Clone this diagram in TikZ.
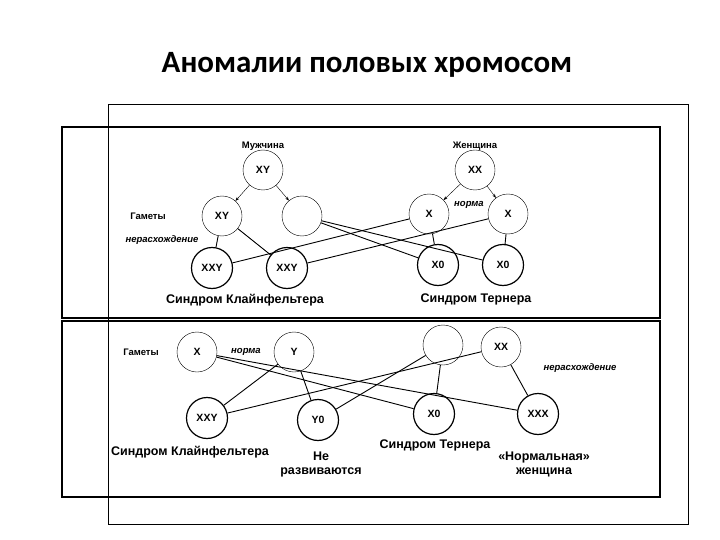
\documentclass[tikz,border=0pt]{standalone}
\usepackage{fontspec}
\setmainfont{Liberation Sans}
\newfontfamily\titlefont{Carlito}
\usetikzlibrary{arrows.meta}
\begin{document}
\begin{tikzpicture}[x=1pt,y=-1pt,
  cir/.style={draw,circle,minimum size=40pt,inner sep=0pt,font=\bfseries\fontsize{10.5}{12}\selectfont},
  res/.style={cir,minimum size=41pt,line width=1.2pt},
  lbl/.style={font=\bfseries\fontsize{12.5}{14}\selectfont,align=center},
  sml/.style={font=\bfseries\fontsize{9.5}{11}\selectfont},
  ital/.style={font=\bfseries\itshape\fontsize{9.5}{11}\selectfont},
  ln/.style={line width=0.9pt}]
\useasboundingbox (0,0) rectangle (720,540);
\node[font=\titlefont\bfseries\fontsize{31}{36}\selectfont] (title) at (367,65) {Аномалии половых хромосом};
\draw[line width=0.8pt] (108,104) rectangle (688,524);
\draw[line width=1.2pt] (62,127) rectangle (660,318);
\draw[line width=1.2pt] (62,321) rectangle (660,497);
% top
\node[sml] (man) at (263,146) {Мужчина};
\node[sml] (wom) at (475,146) {Женщина};
\node[cir] (m) at (263,170) {XY};
\node[cir] (f) at (475,170) {XX};
\node[cir] (g1) at (222,216) {XY};
\node[cir] (g2) at (302,216) {};
\node[cir] (f1) at (429,214) {X};
\node[cir] (f2) at (508,214) {X};
\node[res] (r1) at (212,268) {XXY};
\node[res] (r2) at (287,268) {XXY};
\node[res] (r3) at (438,265) {X0};
\node[res] (r4) at (503,265) {X0};
\node[sml] (gam1) at (148,216) {Гаметы};
\node[ital] (ner1) at (162,240) {нерасхождение};
\node[ital] (norm1) at (469,205) {норма};
\node[lbl] (kl1) at (245,300) {Синдром Клайнфельтера};
\node[lbl] (tr1) at (476,299) {Синдром Тернера};
\draw[-{Stealth[length=4pt]}] (m) -- (g1);
\draw[-{Stealth[length=4pt]}] (m) -- (g2);
\draw[-{Stealth[length=4pt]}] (f) -- (f1);
\draw[-{Stealth[length=4pt]}] (f) -- (f2);
\draw[ln] (g1) -- (r1);
\draw[ln] (g1) -- (r2);
\draw[ln] (f1) -- (r1);
\draw[ln] (f2) -- (r2);
\draw[ln] (g2) -- (r3);
\draw[ln] (g2) -- (r4);
\draw[ln] (f1) -- (r3);
\draw[ln] (f2) -- (r4);
% bottom
\node[cir] (bx) at (197,352) {X};
\node[cir] (by) at (294,352) {Y};
\node[cir] (be) at (443,345) {};
\node[cir] (bxx) at (501,347) {XX};
\node[res] (s1) at (207,418) {XXY};
\node[res] (s2) at (318,420) {Y0};
\node[res] (s3) at (434,414) {X0};
\node[res] (s4) at (538,414) {XXX};
\node[sml] (gam2) at (141,352) {Гаметы};
\node[ital] (norm2) at (246,352) {норма};
\node[ital] (ner2) at (580,368) {нерасхождение};
\node[lbl] (kl2) at (190,452) {Синдром Клайнфельтера};
\node[lbl] (ne) at (321,464) {Не\\развиваются};
\node[lbl] (tr2) at (435,445) {Синдром Тернера};
\node[lbl] (nw) at (544,464) {«Нормальная»\\женщина};
\draw[ln] (by) -- (s1);
\draw[ln] (bxx) -- (s1);
\draw[ln] (by) -- (s2);
\draw[ln] (be) -- (s2);
\draw[ln] (bx) -- (s3);
\draw[ln] (be) -- (s3);
\draw[ln] (bx) -- (s4);
\draw[ln] (bxx) -- (s4);
\end{tikzpicture}
\end{document}
